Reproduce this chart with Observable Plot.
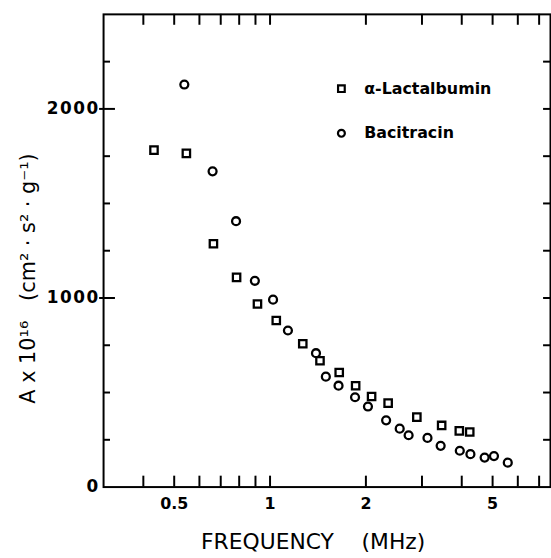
<!DOCTYPE html>
<html><head><meta charset="utf-8">
<script src="https://cdn.jsdelivr.net/npm/d3@7"></script>
<script src="https://cdn.jsdelivr.net/npm/@observablehq/plot@0.6"></script>
<style>html,body{margin:0;padding:0;background:#fff;overflow:hidden}</style>
</head><body><div id="chart"></div>
<script>
// α-Lactalbumin (squares)
const lactFreq = [0.432, 0.546, 0.664, 0.785, 0.913, 1.046, 1.267, 1.435, 1.649, 1.857, 2.084, 2.349, 2.891, 3.459, 3.93, 4.238];
const lactA    = [1782, 1765, 1287, 1109, 968, 881, 758, 668, 606, 536, 479, 444, 370, 326, 297, 291];
// Bacitracin (circles)
const baciFreq = [0.538, 0.660, 0.782, 0.896, 1.022, 1.138, 1.394, 1.497, 1.641, 1.849, 2.030, 2.315, 2.554, 2.724, 3.122, 3.434, 3.944, 4.259, 4.72, 5.05, 5.58];
const baciA    = [2129, 1670, 1406, 1091, 991, 828, 708, 584, 536, 475, 426, 353, 309, 274, 260, 218, 192, 174, 156, 164, 129];

const seriesNames = ["\u03b1-Lactalbumin", "Bacitracin"];
const xTicks = [0.4, 0.5, 0.6, 0.7, 0.8, 0.9, 1, 2, 3, 4, 5, 6, 7];
const xTickLabels = [0.5, 1, 2, 5];
const yMinorTicks = [250, 500, 750, 1250, 1500, 1750, 2250];
const yMajorTicks = [1000, 2000];
const yTickLabels = [0, 1000, 2000];
const xTitle = "FREQUENCY\u00a0\u00a0\u00a0\u00a0(MHz)";
const yTitle = "A x 10\u00b9\u2076\u00a0\u00a0\u00a0(cm\u00b2 \u00b7 s\u00b2 \u00b7 g\u207b\u00b9)";

const lact = lactFreq.map((f, i) => ({f, a: lactA[i]}));
const baci = baciFreq.map((f, i) => ({f, a: baciA[i]}));

const W = 556, H = 558;
const mL = 104, mR = 1, mT = 14, mB = 67;
const pw = W - mL - mR, ph = H - mT - mB;
const font = "'DejaVu Sans', sans-serif";

const chart = Plot.plot({
  width: W, height: H,
  marginLeft: mL, marginRight: mR, marginTop: mT, marginBottom: mB,
  style: {fontFamily: font, background: "#fff", color: "#000", overflow: "visible"},
  x: {type: "log", domain: [0.3, 7.6]},
  y: {domain: [0, 2500]},
  marks: [
    Plot.frame({stroke: "#000", strokeWidth: 2}),
    // x ticks (bottom and top, inward)
    Plot.ruleX(xTicks, {x: d => d, insetTop: ph - 11, stroke: "#000", strokeWidth: 2}),
    Plot.ruleX(xTicks, {x: d => d, insetBottom: ph - 11, stroke: "#000", strokeWidth: 2}),
    // y ticks left
    Plot.ruleY(yMinorTicks, {y: d => d, insetRight: pw - 7, stroke: "#000", strokeWidth: 2}),
    Plot.ruleY(yMajorTicks, {y: d => d, insetLeft: -4, insetRight: pw - 12, stroke: "#000", strokeWidth: 2}),
    // y ticks right
    Plot.ruleY(yMinorTicks.concat(yMajorTicks), {y: d => d, insetLeft: pw - 7, stroke: "#000", strokeWidth: 2}),
    Plot.axisX({ticks: xTickLabels, tickSize: 0, tickPadding: 11, tickFormat: d => String(d), fontSize: 16, fontWeight: "bold", label: null}),
    Plot.axisY({ticks: yTickLabels, tickSize: 0, tickPadding: 4, tickFormat: d => String(d), fontSize: 17, fontWeight: "bold", label: null}),
    // data
    Plot.dot(lact, {x: "f", y: "a", symbol: "square", r: 4.2, stroke: "#000", strokeWidth: 2.3, fill: "none"}),
    Plot.dot(baci, {x: "f", y: "a", symbol: "circle", r: 4, stroke: "#000", strokeWidth: 2.3, fill: "none"}),
    // legend
    Plot.dot([seriesNames[0]], {frameAnchor: "top-left", dx: 240, dy: 75, symbol: "square", r: 3.8, stroke: "#000", strokeWidth: 2.2, fill: "none"}),
    Plot.dot([seriesNames[1]], {frameAnchor: "top-left", dx: 240, dy: 120, symbol: "circle", r: 3.5, stroke: "#000", strokeWidth: 2.2, fill: "none"}),
    Plot.text([seriesNames[0]], {frameAnchor: "top-left", dx: 263, dy: 75, text: d => d, textAnchor: "start", lineAnchor: "middle", fontSize: 16, fontWeight: "bold", fill: "#000", ariaLabel: "legendtext"}),
    Plot.text([seriesNames[1]], {frameAnchor: "top-left", dx: 263, dy: 120, text: d => d, textAnchor: "start", lineAnchor: "middle", fontSize: 16, fontWeight: "bold", fill: "#000", ariaLabel: "legendtext"}),
    // axis titles
    Plot.text([xTitle], {frameAnchor: "bottom", dx: -14, dy: 55, text: d => d, textAnchor: "middle", lineAnchor: "middle", fontSize: 22, fill: "#000", ariaLabel: "xtitle"}),
    Plot.text([yTitle], {frameAnchor: "left", dx: -76, dy: 28, rotate: -90, text: d => d, textAnchor: "middle", lineAnchor: "middle", fontSize: 21, fill: "#000", ariaLabel: "ytitle"})
  ]
});
const svg = d3.select(chart);
svg.selectAll('g[aria-label="xtitle"] text').style("letter-spacing", "3px");
svg.selectAll('g[aria-label="ytitle"] text').style("letter-spacing", "3px");
svg.selectAll('g[aria-label="y-axis tick label"] text').style("letter-spacing", "1.5px");
svg.selectAll('g[aria-label="legendtext"] text').style("letter-spacing", "1.8px");
document.getElementById("chart").append(chart);
</script>
</body></html>
